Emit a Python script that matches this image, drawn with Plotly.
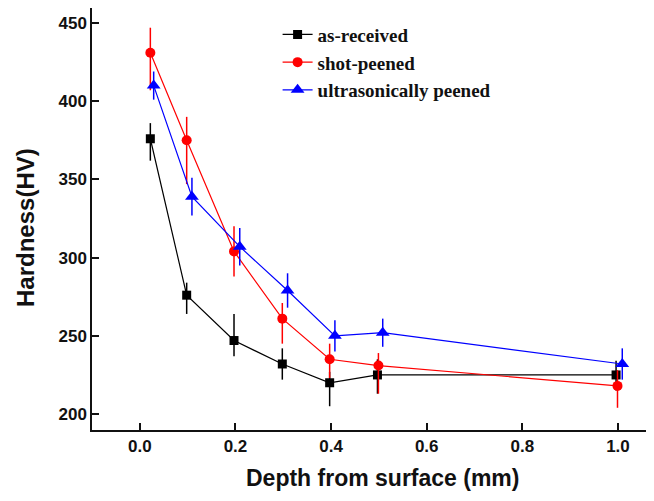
import plotly.graph_objects as go

# Data
depth_ar = [0.022, 0.098, 0.197, 0.298, 0.397, 0.497, 0.996]
hv_ar = [376, 276, 247, 232, 220, 225, 225]
err_ar_plus = [10, 8, 17, 10, 7, 10, 9]
err_ar_minus = [14, 12, 10, 10, 15, 12, 10]

depth_sp = [0.022, 0.098, 0.197, 0.298, 0.397, 0.499, 0.999]
hv_sp = [431, 375, 304, 261, 235, 231, 218]
err_sp_plus = [16, 15, 16, 10, 10, 8, 10]
err_sp_minus = [24, 28, 16, 16, 12, 18, 14]

depth_us = [0.029, 0.109, 0.209, 0.309, 0.408, 0.508, 1.009]
hv_us = [410, 339, 307, 279, 250, 252, 232]
err_us = [9, 12, 12, 11, 10, 9, 10]

series = [
    ("as-received", depth_ar, hv_ar, err_ar_plus, err_ar_minus, "#000000", "square", 9),
    ("shot-peened", depth_sp, hv_sp, err_sp_plus, err_sp_minus, "#ff0000", "circle", 10),
    ("ultrasonically peened", depth_us, hv_us, err_us, err_us, "#0000ff", "triangle-up", 12),
]

x_ticks = [0.0, 0.2, 0.4, 0.6, 0.8, 1.0]
x_labels = ["0.0", "0.2", "0.4", "0.6", "0.8", "1.0"]
y_ticks = [200, 250, 300, 350, 400, 450]
x_title = "Depth from surface (mm)"
y_title = "Hardness(HV)"

fig = go.Figure()
for name, xs, ys, ep, em, col, sym, sz in series:
    fig.add_trace(go.Scatter(
        x=xs, y=ys, name=name, mode="lines+markers",
        line=dict(color=col, width=1.2),
        marker=dict(color=col, symbol=sym, size=sz),
        error_y=dict(type="data", array=ep, arrayminus=em, symmetric=False,
                     color=col, thickness=1.5, width=0),
    ))

axis_font = dict(family="Liberation Sans, Arial", size=17, color="#111", weight="bold")
title_font = dict(family="Liberation Sans, Arial", size=24, color="#111", weight="bold")
xtitle_font = dict(family="Liberation Sans, Arial", size=23, color="#111", weight="bold")
fig.update_layout(
    width=638, height=485,
    margin=dict(l=84, r=0, t=0, b=63),
    paper_bgcolor="white", plot_bgcolor="white",
    showlegend=True,
    legend=dict(x=0.335, y=0.982, xanchor="left", yanchor="top",
                bgcolor="rgba(0,0,0,0)",
                font=dict(family="Liberation Serif, Times New Roman", size=19,
                          color="#111", weight="bold"),
                tracegroupgap=0),
    xaxis=dict(range=[-0.1, 1.0586], tickmode="array", tickvals=x_ticks, ticktext=x_labels,
               ticks="inside", ticklen=7, tickwidth=1.5, tickcolor="#111",
               showline=True, linecolor="#111", linewidth=1.5, mirror=True,
               showgrid=False, zeroline=False, tickfont=axis_font, automargin=False),
    yaxis=dict(range=[189.8, 459.6], tickmode="array", tickvals=y_ticks,
               ticks="inside", ticklen=7, tickwidth=1.5, tickcolor="#111",
               showline=True, linecolor="#111", linewidth=1.5,
               showgrid=False, zeroline=False, tickfont=axis_font, automargin=False),
    annotations=[
        dict(text=x_title, xref="paper", yref="paper", x=0.5235, y=-0.113,
             xanchor="center", yanchor="middle", showarrow=False, font=xtitle_font),
        dict(text=y_title, xref="paper", yref="paper", x=-0.121, y=0.481,
             xanchor="center", yanchor="middle", textangle=-90, showarrow=False,
             font=title_font),
    ],
)
fig.write_html("out.html")
